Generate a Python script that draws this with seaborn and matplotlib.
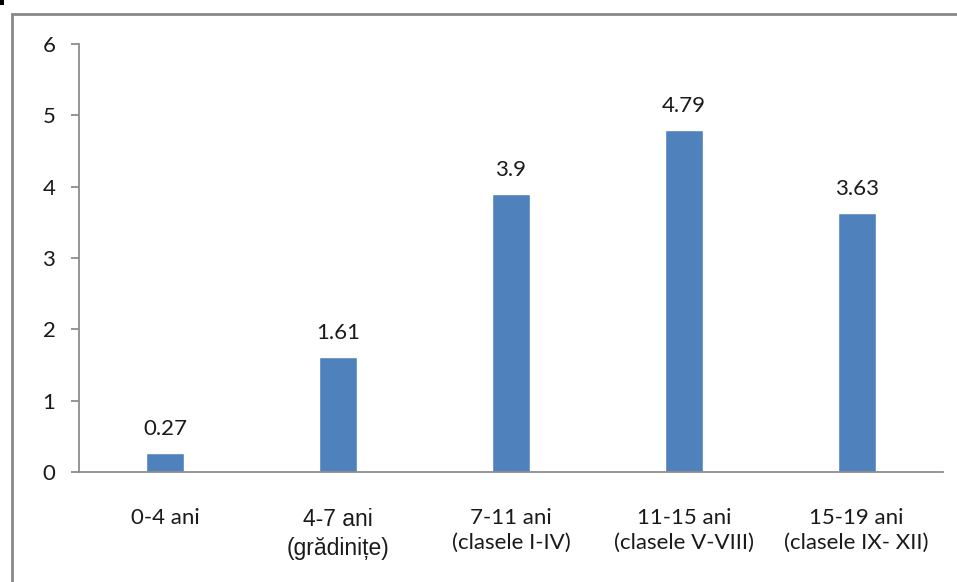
import matplotlib
matplotlib.use("Agg")
import matplotlib.pyplot as plt
from matplotlib.patches import Rectangle
import seaborn as sns
import pandas as pd

# Age groups and their values
categories = ["0-4 ani", "4-7 ani\n(grădinițe)", "7-11 ani\n(clasele I-IV)",
              "11-15 ani\n(clasele V-VIII)", "15-19 ani\n(clasele IX- XII)"]
values = [0.27, 1.61, 3.9, 4.79, 3.63]
y_ticks = [0, 1, 2, 3, 4, 5, 6]

bar_color = "#4F81BD"
axis_grey = "#8C8C8C"
text_color = "#1A1A1A"
fs = 16

sns.set_theme(style="white")
plt.rcParams["font.family"] = ["Lato", "DejaVu Sans"]

W, H = 957, 582
fig = plt.figure(figsize=(W / 100, H / 100), dpi=100)
ax = fig.add_axes([79 / W, (H - 472) / H, (943 - 79) / W, (472 - 44) / H])

df = pd.DataFrame({"cat": categories, "val": values})
sns.barplot(data=df, x="cat", y="val", color=bar_color, width=0.22,
            saturation=1, ax=ax)

ax.set_xlim(-0.5, len(categories) - 0.5)
ax.set_ylim(0, 6)
ax.set_yticks(y_ticks)
ax.set_yticklabels([str(t) for t in y_ticks], fontsize=fs, color=text_color)
ax.set_xlabel("")
ax.set_ylabel("")

# Category labels at bar centres, tick marks at category boundaries
ax.set_xticks(range(len(categories)))
ax.set_xticklabels(categories, fontsize=fs, color=text_color, linespacing=1.3)
ax.set_xticks([i - 0.5 for i in range(len(categories) + 1)], minor=True)
ax.tick_params(axis="x", which="major", length=0, pad=26)
ax.tick_params(axis="x", which="minor", length=6.5, width=1.3, color=axis_grey)
ax.tick_params(axis="y", which="major", length=6, width=1.3, color=axis_grey,
               pad=11, left=True)
for lab in ax.get_xticklabels():
    if lab.get_text().startswith("4-7"):
        lab.set_fontfamily(["Liberation Sans", "DejaVu Sans"])
        lab.set_fontsize(16.5)

for side in ["top", "right"]:
    ax.spines[side].set_visible(False)
for side in ["left", "bottom"]:
    ax.spines[side].set_color(axis_grey)
    ax.spines[side].set_linewidth(1.3)

for cont in ax.containers:
    ax.bar_label(cont, fmt="%g", padding=10, fontsize=fs, color=text_color)

# Outer chart frame
fig.patches.append(Rectangle((12 / W, -0.1), 1.2, (H - 14) / H + 0.1,
                             transform=fig.transFigure, fill=False,
                             edgecolor="#888888", linewidth=2))
fig.patches.append(Rectangle((0, (H - 5) / H), 4 / W, 5 / H,
                             transform=fig.transFigure, facecolor="black",
                             edgecolor="none"))

fig.savefig("out.png", dpi=100, facecolor="white")
